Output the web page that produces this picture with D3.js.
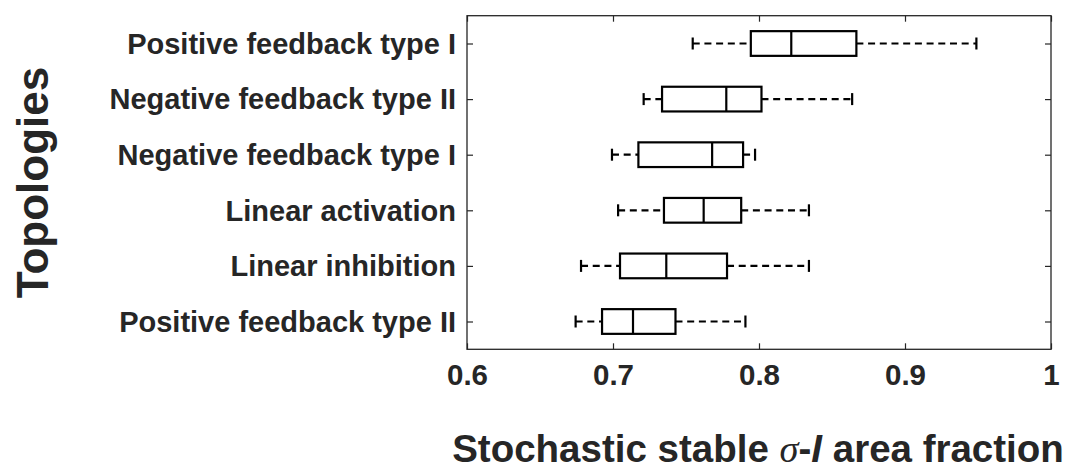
<!DOCTYPE html>
<html>
<head>
<meta charset="utf-8">
<script src="https://cdn.jsdelivr.net/npm/d3@7"></script>
<style>
  html, body { margin: 0; padding: 0; background: #fff; }
  svg { display: block; }
  text { font-family: "Liberation Sans", Arial, Helvetica, sans-serif; font-weight: bold; fill: #262626; }
</style>
</head>
<body>
<svg id="chart" width="1069" height="474"></svg>
<script>
// Topologies, listed top to bottom
const categories = [
  "Positive feedback type I",
  "Negative feedback type II",
  "Negative feedback type I",
  "Linear activation",
  "Linear inhibition",
  "Positive feedback type II"
];
// Box statistics per topology
const lowerWhisker = [0.7546, 0.7210, 0.6993, 0.7035, 0.6781, 0.6744];
const q1           = [0.7944, 0.7336, 0.7174, 0.7349, 0.7048, 0.6925];
const median       = [0.8221, 0.7776, 0.7679, 0.7621, 0.7365, 0.7137];
const q3           = [0.8667, 0.8017, 0.7891, 0.7878, 0.7781, 0.7428];
const upperWhisker = [0.9489, 0.8638, 0.7973, 0.8342, 0.8342, 0.7907];
const xTicks = [0.6, 0.7, 0.8, 0.9, 1];
const xTickLabels = ["0.6", "0.7", "0.8", "0.9", "1"];

const rows = categories.map((c, i) => ({
  name: c, lo: lowerWhisker[i], q1: q1[i], med: median[i], q3: q3[i], hi: upperWhisker[i]
}));

const svg = d3.select("#chart");
const plotLeft = 467, plotRight = 1051, plotTop = 15.7, plotBottom = 349.3;
const axisColor = "#262626";

const x = d3.scaleLinear().domain([0.6, 1]).range([plotLeft, plotRight]);
const y = d3.scalePoint().domain(categories).range([plotTop, plotBottom]).padding(0.5);

const boxH = 24.7, capH = 12, markW = 2.2;

// Axes with inward ticks
function styleAxis(g) {
  g.select(".domain").remove();
  g.selectAll(".tick line").attr("stroke", axisColor).attr("stroke-width", 1.2);
}

svg.append("g")
  .attr("transform", `translate(0,${plotBottom})`)
  .call(d3.axisBottom(x).tickValues(xTicks).tickFormat((d, i) => xTickLabels[i])
    .tickSizeInner(-6).tickSizeOuter(0).tickPadding(15))
  .call(styleAxis)
  .call(g => g.selectAll("text").attr("font-size", 29.5).attr("fill", axisColor));

svg.append("g")
  .attr("transform", `translate(0,${plotTop})`)
  .call(d3.axisTop(x).tickValues(xTicks).tickFormat("").tickSizeInner(-6).tickSizeOuter(0))
  .call(styleAxis);

svg.append("g")
  .attr("transform", `translate(${plotLeft},0)`)
  .call(d3.axisLeft(y).tickSizeInner(-6).tickSizeOuter(0).tickPadding(11))
  .call(styleAxis)
  .call(g => g.selectAll("text").attr("font-size", 29).attr("dy", "0.34em").attr("fill", axisColor));

svg.append("g")
  .attr("transform", `translate(${plotRight},0)`)
  .call(d3.axisRight(y).tickFormat("").tickSizeInner(-6).tickSizeOuter(0))
  .call(styleAxis);

// Frame
svg.append("rect")
  .attr("x", plotLeft).attr("y", plotTop)
  .attr("width", plotRight - plotLeft).attr("height", plotBottom - plotTop)
  .attr("fill", "none").attr("stroke", axisColor).attr("stroke-width", 1.3);

// Box plots
const boxes = svg.append("g").selectAll("g").data(rows).join("g");

// dashed whiskers, drawn left to right
boxes.append("line")
  .attr("x1", d => x(d.lo)).attr("x2", d => x(d.q1))
  .attr("y1", d => y(d.name)).attr("y2", d => y(d.name))
  .attr("stroke", "#000").attr("stroke-width", markW).attr("stroke-dasharray", "7,4.7");
boxes.append("line")
  .attr("x1", d => x(d.q3)).attr("x2", d => x(d.hi))
  .attr("y1", d => y(d.name)).attr("y2", d => y(d.name))
  .attr("stroke", "#000").attr("stroke-width", markW).attr("stroke-dasharray", "7,4.7");

// whisker caps
["lo", "hi"].forEach(k => {
  boxes.append("line")
    .attr("x1", d => x(d[k])).attr("x2", d => x(d[k]))
    .attr("y1", d => y(d.name) - capH / 2).attr("y2", d => y(d.name) + capH / 2)
    .attr("stroke", "#000").attr("stroke-width", markW);
});

// boxes
boxes.append("rect")
  .attr("x", d => x(d.q1)).attr("width", d => x(d.q3) - x(d.q1))
  .attr("y", d => y(d.name) - boxH / 2).attr("height", boxH)
  .attr("fill", "#fff").attr("stroke", "#000").attr("stroke-width", markW);

// medians
boxes.append("line")
  .attr("x1", d => x(d.med)).attr("x2", d => x(d.med))
  .attr("y1", d => y(d.name) - boxH / 2).attr("y2", d => y(d.name) + boxH / 2)
  .attr("stroke", "#000").attr("stroke-width", markW);

// Axis titles
const xt = svg.append("text")
  .attr("x", 758).attr("y", 462)
  .attr("text-anchor", "middle").attr("font-size", 38.5);
xt.append("tspan").text("Stochastic stable ");
xt.append("tspan").text("σ")
  .style("font-family", "'Liberation Serif', 'DejaVu Serif', serif")
  .style("font-style", "italic").style("font-weight", "normal");
xt.append("tspan").text("-");
xt.append("tspan").text("I").style("font-style", "italic");
xt.append("tspan").text(" area fraction");

svg.append("text")
  .attr("transform", `translate(48,${(plotTop + plotBottom) / 2}) rotate(-90)`)
  .attr("text-anchor", "middle").attr("font-size", 44)
  .text("Topologies");
</script>
</body>
</html>
